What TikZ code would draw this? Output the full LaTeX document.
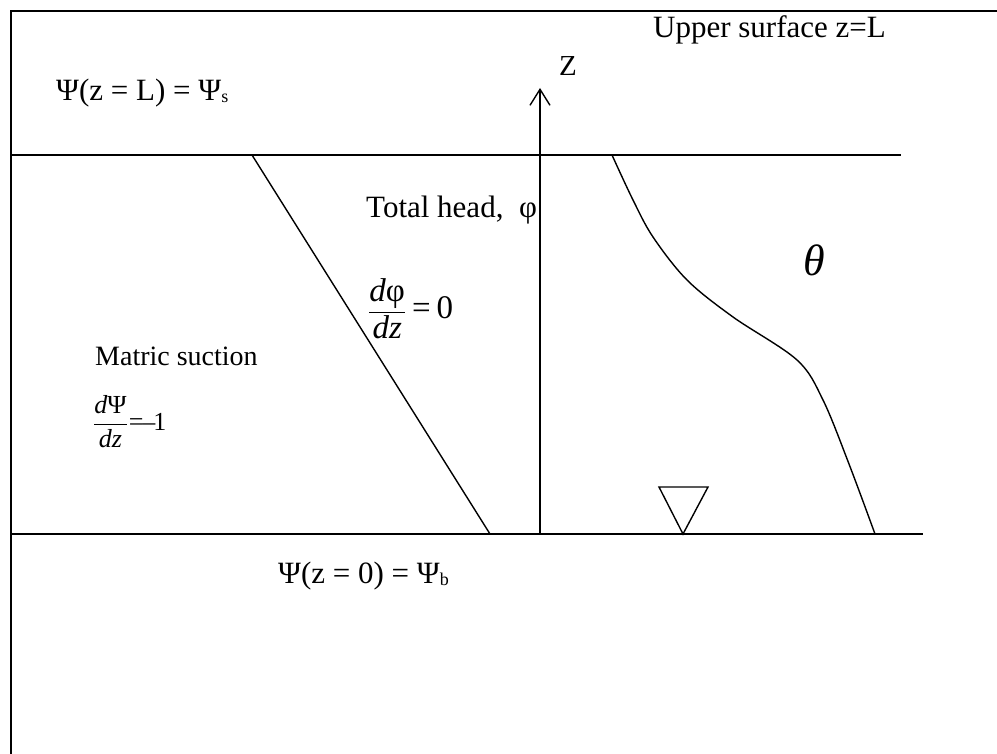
\documentclass[tikz,border=0pt]{standalone}
\usepackage{amsmath}
\usepackage{fontspec}
\setmainfont{Liberation Serif}
\usetikzlibrary{arrows.meta}
\tikzset{
  lbl/.style={inner sep=0pt, anchor=base west},
  ln/.style={line width=1.4pt, line cap=butt},
}
\begin{document}
\begin{tikzpicture}[x=1pt,y=-1pt]
\useasboundingbox (0,0) rectangle (997,754);
% frame
\coordinate (fb) at (11,756);
\coordinate (fc) at (11,11);
\coordinate (fr) at (999,11);
\draw[ln] (fb) -- (fc) -- (fr);
% surfaces
\coordinate (uL) at (10,155); \coordinate (uR) at (901,155);
\coordinate (lL) at (10,534); \coordinate (lR) at (923,534);
\draw[ln] (uL) -- (uR);
\draw[ln] (lL) -- (lR);
% z axis
\coordinate (ab) at (540,534); \coordinate (at) at (540,88);
\draw[ln, -{Straight Barb[length=16pt,width=20pt,line width=1.4pt]}] (ab) -- (at);
% total head line
\coordinate (ht) at (252,155); \coordinate (hb) at (490,534);
\draw[ln] (ht) -- (hb);
% theta curve
\draw[ln] plot[smooth, tension=0.55] coordinates {(612,155) (633,200) (653,237) (687,280) (733,317) (797,360) (823,400) (849,464) (875,534)};
% water table triangle
\coordinate (t1) at (659,487); \coordinate (t2) at (708,487); \coordinate (t3) at (683,534);
\draw[ln, line join=miter] (t1) -- (t2) -- (t3) -- cycle;
% labels
\node[lbl, font=\fontsize{31}{34}\selectfont] (us) at (653,38) {Upper surface z=L};
\node[lbl, font=\fontsize{29}{34}\selectfont] (zl) at (559,76) {Z};
\node[lbl, font=\fontsize{31}{34}\selectfont] (ps) at (56,101) {Ψ(z = L) = Ψ\raisebox{-2pt}{\fontsize{18}{20}\selectfont s}};
\node[lbl, font=\fontsize{31}{34}\selectfont] (th) at (366,218) {Total head,\ \ φ};
\node[lbl, font=\fontsize{44}{48}\selectfont\itshape] (tt) at (803,276) {θ};
\node[inner sep=0pt, anchor=west, font=\fontsize{33}{36}\selectfont] (f1) at (368,309)
  {$\dfrac{\text{\itshape d\upshape φ}}{\text{\itshape dz}}\text{\kern6pt=\kern6pt0}$};
\node[lbl, font=\fontsize{28}{34}\selectfont] (ms) at (95,366) {Matric suction};
\node[inner sep=0pt, anchor=west, font=\fontsize{26}{30}\selectfont] (f2) at (93,422)
  {$\dfrac{\text{\itshape d\upshape Ψ}}{\text{\itshape dz}}\text{\kern1pt=\kern-1pt–\kern-2pt1}$};
\node[lbl, font=\fontsize{31}{34}\selectfont] (pb) at (278,583) {Ψ(z = 0) = Ψ\raisebox{-2pt}{\fontsize{18}{20}\selectfont b}};
\end{tikzpicture}
\end{document}
